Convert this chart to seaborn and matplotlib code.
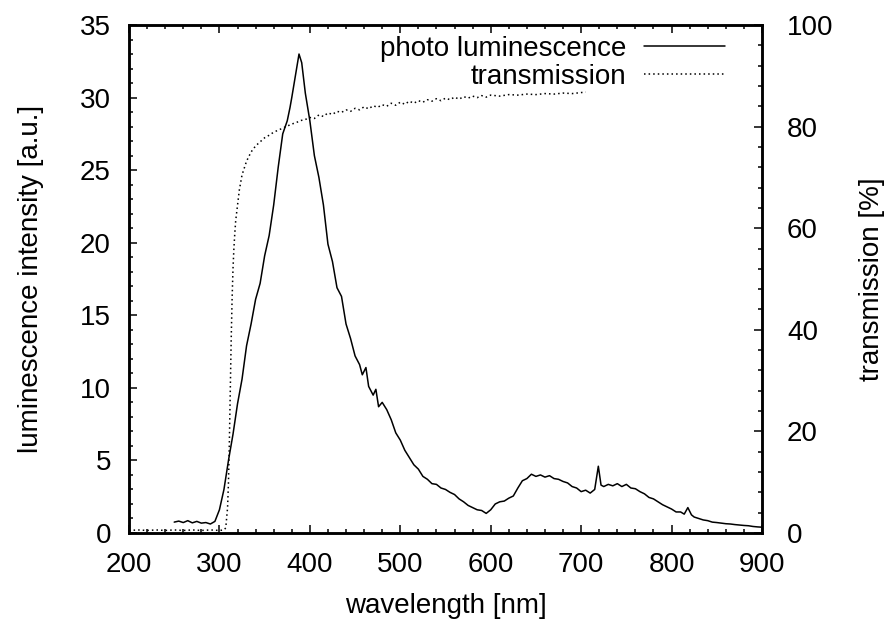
import matplotlib
matplotlib.use("Agg")
import matplotlib.pyplot as plt
import seaborn as sns
import pandas as pd
from matplotlib.ticker import MultipleLocator

# ---- photo luminescence (left axis) ----
pl_wavelength = [250, 255, 260, 265, 270, 275, 280, 285, 290, 295,
                 300, 305, 310, 315, 320, 325, 330, 335, 340, 345,
                 350, 355, 360, 365, 370, 375, 378, 380, 385, 388,
                 391, 395, 400, 405, 410, 415, 420, 425, 430, 435,
                 440, 445, 450, 455, 458, 462, 465, 470, 473, 476,
                 480, 485, 490, 495, 500, 505, 510, 515, 520, 525,
                 530, 535, 540, 545, 550, 555, 560, 565, 570, 575,
                 580, 585, 590, 595, 600, 605, 610, 615, 620, 625,
                 630, 635, 640, 645, 650, 655, 660, 665, 670, 675,
                 680, 685, 690, 695, 700, 705, 710, 715, 719, 722,
                 725, 730, 735, 740, 745, 750, 755, 760, 765, 770,
                 775, 780, 785, 790, 795, 800, 805, 810, 814, 818,
                 822, 825, 830, 835, 840, 845, 850, 855, 860, 865,
                 870, 875, 880, 885, 890, 895, 900]
pl_intensity = [0.75, 0.82, 0.72, 0.85, 0.70, 0.80, 0.68, 0.72, 0.62, 0.80,
                1.6, 3.0, 5.0, 6.8, 8.9, 10.6, 12.9, 14.4, 16.1, 17.2,
                19.1, 20.5, 22.6, 25.2, 27.5, 28.4, 29.3, 30.0, 31.9, 33.0,
                32.4, 30.3, 28.4, 26.0, 24.5, 22.6, 19.9, 18.7, 16.9, 16.3,
                14.4, 13.4, 12.2, 11.6, 10.9, 11.4, 10.1, 9.5, 9.9, 8.7,
                9.0, 8.5, 7.8, 6.9, 6.4, 5.7, 5.2, 4.7, 4.4, 3.9,
                3.7, 3.4, 3.35, 3.1, 3.0, 2.8, 2.65, 2.35, 2.15, 1.9,
                1.75, 1.6, 1.55, 1.35, 1.6, 2.0, 2.15, 2.2, 2.4, 2.55,
                3.1, 3.6, 3.75, 4.05, 3.9, 4.0, 3.85, 3.95, 3.75, 3.7,
                3.55, 3.45, 3.2, 3.1, 2.85, 2.95, 2.75, 3.0, 4.6, 3.3,
                3.2, 3.35, 3.25, 3.4, 3.2, 3.35, 3.1, 3.05, 2.85, 2.7,
                2.45, 2.35, 2.15, 1.95, 1.8, 1.65, 1.45, 1.45, 1.3, 1.75,
                1.25, 1.1, 1.0, 0.9, 0.85, 0.75, 0.72, 0.68, 0.64, 0.62,
                0.58, 0.55, 0.52, 0.5, 0.45, 0.42, 0.40]

# ---- transmission (right axis) ----
tr_wavelength = [200, 210, 220, 230, 240, 250, 260, 270, 280, 290,
                 300, 305, 307, 309, 310, 311, 312, 313, 314, 315,
                 316, 317, 318, 320, 322, 325, 330, 335, 340, 345,
                 350, 355, 360, 365, 370, 375, 380, 385, 390, 395,
                 400, 405, 410, 415, 420, 425, 430, 435, 440, 445,
                 450, 455, 460, 465, 470, 475, 480, 485, 490, 495,
                 500, 505, 510, 515, 520, 525, 530, 535, 540, 545,
                 550, 555, 560, 565, 570, 575, 580, 585, 590, 595,
                 600, 610, 620, 630, 640, 650, 660, 670, 680, 690,
                 700, 705]
tr_percent = [0.5, 0.6, 0.5, 0.6, 0.5, 0.6, 0.5, 0.6, 0.5, 0.6,
              0.5, 0.6, 1.0, 5.0, 10.0, 18.0, 28.0, 38.0, 46.0, 52.0,
              56.0, 59.0, 61.5, 64.5, 67.5, 70.5, 73.2, 75.0, 76.2, 77.0,
              77.8, 78.3, 78.9, 79.3, 79.7, 80.1, 80.5, 80.8, 81.2, 81.4,
              81.8, 81.6, 82.3, 82.0, 82.7, 82.4, 83.0, 82.8, 83.3, 83.0,
              83.6, 83.3, 83.9, 83.5, 84.1, 83.8, 84.3, 84.0, 84.6, 84.2,
              84.8, 84.4, 85.0, 84.6, 85.1, 84.8, 85.3, 85.0, 85.5, 85.1,
              85.6, 85.3, 85.8, 85.4, 85.9, 85.6, 86.0, 85.7, 86.1, 85.8,
              86.2, 86.0, 86.3, 86.2, 86.4, 86.3, 86.5, 86.4, 86.6, 86.5,
              86.7, 86.8]

series_labels = ["photo luminescence", "transmission"]
x_label = "wavelength [nm]"
y_label = "luminescence intensity [a.u.]"
y2_label = "transmission [%]"

sns.set_theme(style="white")
plt.rcParams['font.family'] = ['Liberation Sans', 'DejaVu Sans']
plt.rcParams['font.size'] = 20
plt.rcParams['text.color'] = 'black'
plt.rcParams['axes.labelcolor'] = 'black'
plt.rcParams['xtick.color'] = 'black'
plt.rcParams['ytick.color'] = 'black'

FS = 20

fig, ax = plt.subplots(figsize=(8.89, 6.25), dpi=100)
fig.subplots_adjust(left=129/889, right=762/889, bottom=1-533/625, top=1-25/625)
ax2 = ax.twinx()

pl_df = pd.DataFrame({"wavelength": pl_wavelength, "intensity": pl_intensity})
tr_df = pd.DataFrame({"wavelength": tr_wavelength, "transmission": tr_percent})

sns.lineplot(data=pl_df, x="wavelength", y="intensity", ax=ax, color="black",
             linewidth=1.1, estimator=None, sort=False, legend=False)
sns.lineplot(data=tr_df, x="wavelength", y="transmission", ax=ax2, color="black",
             linewidth=1.1, linestyle=(0, (1, 2)), estimator=None, sort=False, legend=False)

ax.set_xlim(200, 900)
ax.set_ylim(0, 35)
ax2.set_ylim(0, 100)

ax.xaxis.set_major_locator(MultipleLocator(100))
ax.xaxis.set_minor_locator(MultipleLocator(20))
ax.yaxis.set_major_locator(MultipleLocator(5))
ax.yaxis.set_minor_locator(MultipleLocator(1))
ax2.yaxis.set_major_locator(MultipleLocator(20))
ax2.yaxis.set_minor_locator(MultipleLocator(4))

for a in (ax, ax2):
    for s in a.spines.values():
        s.set_color("black")
        s.set_linewidth(1.8)

ax.tick_params(axis='x', which='both', direction='in', top=True, bottom=True,
               colors='black', labelcolor='black', width=1.1, labelsize=FS, pad=13.5)
ax.tick_params(axis='x', which='major', length=6)
ax.tick_params(axis='x', which='minor', length=3)
ax.tick_params(axis='y', which='both', direction='in', left=True, right=False,
               colors='black', labelcolor='black', width=1.1, labelsize=FS, pad=13)
ax.tick_params(axis='y', which='major', length=6)
ax.tick_params(axis='y', which='minor', length=3)
ax2.tick_params(axis='y', which='both', direction='in', right=True, left=False,
                colors='black', labelcolor='black', width=1.1, labelsize=FS, pad=18)
ax2.tick_params(axis='y', which='major', length=6)
ax2.tick_params(axis='y', which='minor', length=3)

ax.set_xlabel(x_label, fontsize=FS, va='center', color='black')
ax.xaxis.set_label_coords(0.5, (533 - 606) / 508)
ax.set_ylabel(y_label, fontsize=FS, va='center', color='black')
ax.yaxis.set_label_coords((31 - 129) / 633, 0.5)
ax2.set_ylabel(y2_label, fontsize=FS, va='center', color='black')
ax2.yaxis.set_label_coords((872 - 129) / 633, 0.5)

handles = [ax.lines[0], ax2.lines[0]]
leg = ax2.legend(handles, series_labels, loc='upper right',
                 bbox_to_anchor=((725 - 129) / 633, (533 - 36) / 508),
                 frameon=False, markerfirst=False, handlelength=2.9, handletextpad=0.65,
                 labelspacing=0.06, borderpad=0, borderaxespad=0, fontsize=FS)
for t in leg.get_texts():
    t.set_color('black')

fig.savefig("out.png", dpi=100)
